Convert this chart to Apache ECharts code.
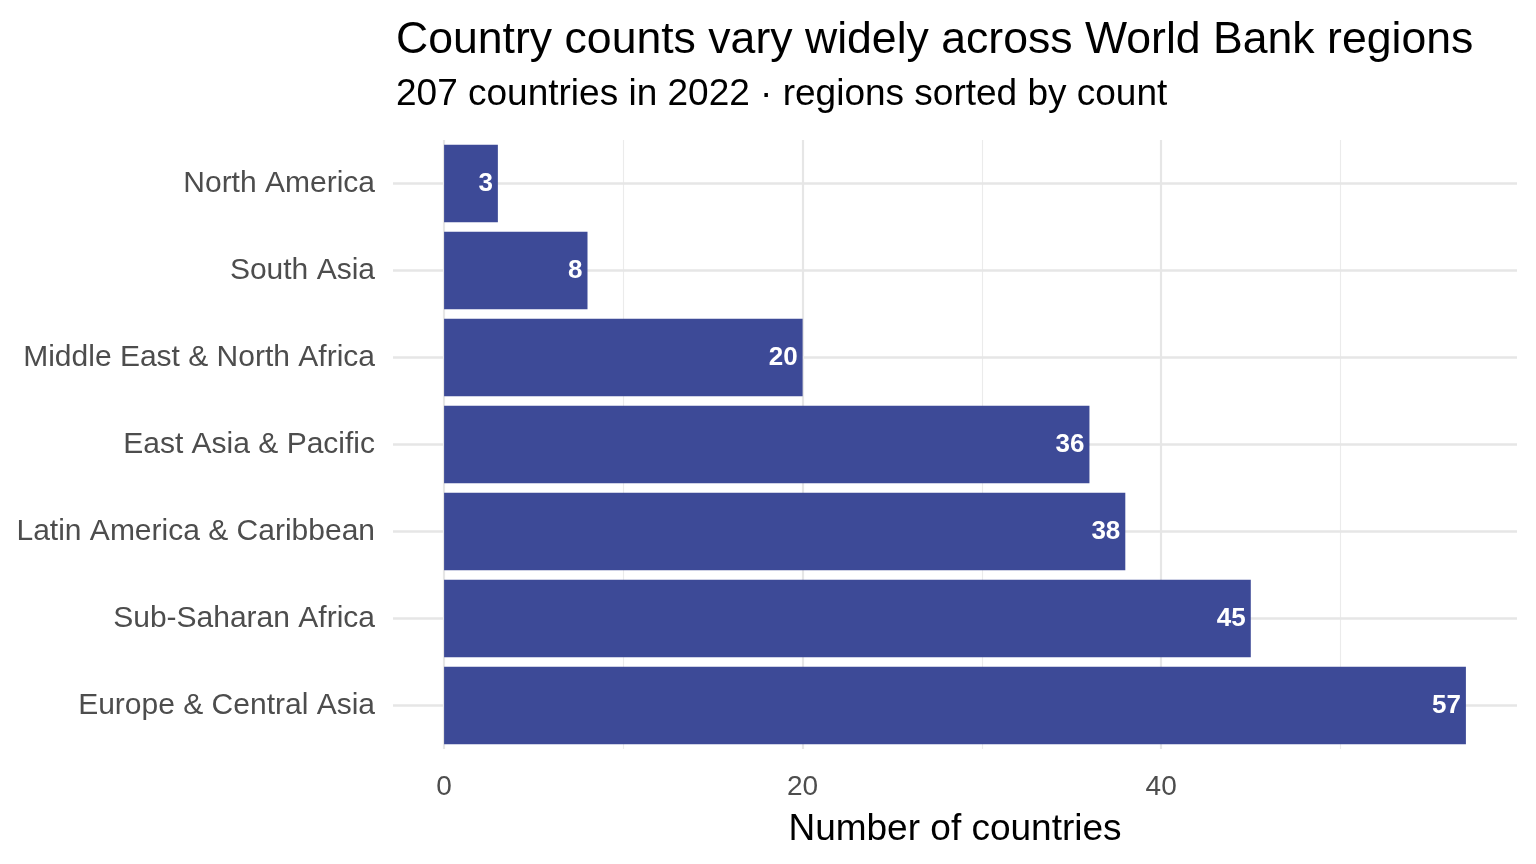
<!DOCTYPE html>
<html>
<head>
<meta charset="utf-8">
<script src="https://cdn.jsdelivr.net/npm/echarts@6/dist/echarts.min.js"></script>
<style>html,body{margin:0;padding:0;background:#fff}#chart{width:1536px;height:864px}</style>
</head>
<body>
<div id="chart"></div>
<script>
// regions sorted by count (top to bottom)
var regions = ['North America', 'South Asia', 'Middle East & North Africa', 'East Asia & Pacific',
    'Latin America & Caribbean', 'Sub-Saharan Africa', 'Europe & Central Asia'];
var counts = [3, 8, 20, 36, 38, 45, 57];
var majorTicks = [0, 20, 40];
var minorTicks = [10, 30, 50];

var chart = echarts.init(document.getElementById('chart'));

var gridLines = [];
majorTicks.forEach(function (v) {
    gridLines.push({ xAxis: v, lineStyle: { color: '#e6e6e6', width: 2.2, type: 'solid' } });
});
minorTicks.forEach(function (v) {
    gridLines.push({ xAxis: v, lineStyle: { color: '#ebebeb', width: 1.1, type: 'solid' } });
});
regions.forEach(function (r) {
    gridLines.push({ yAxis: r, lineStyle: { color: '#e6e6e6', width: 2.5, type: 'solid' } });
});

var option = {
    animation: false,
    textStyle: { fontFamily: 'Liberation Sans, Arial, sans-serif' },
    title: [
        { text: 'Country counts vary widely across World Bank regions', left: 391, top: 13,
          textStyle: { fontSize: 44.6, fontWeight: 'normal', color: '#000' } },
        { text: '207 countries in 2022 · regions sorted by count', left: 391, top: 71,
          textStyle: { fontSize: 37, fontWeight: 'normal', color: '#000' } }
    ],
    grid: { left: 393, right: 19, top: 140, bottom: 115 },
    xAxis: {
        type: 'value', min: -2.85, max: 59.85,
        name: 'Number of countries', nameLocation: 'middle', nameGap: 62,
        nameTextStyle: { fontSize: 37, color: '#000' },
        axisLine: { show: false }, axisTick: { show: false }, splitLine: { show: false },
        axisLabel: {
            fontSize: 28, color: '#4d4d4d', margin: 24,
            customValues: majorTicks
        }
    },
    yAxis: {
        type: 'category', data: regions, inverse: true,
        axisLine: { show: false }, axisTick: { show: false }, splitLine: { show: false },
        axisLabel: { fontSize: 30, color: '#4d4d4d', margin: 18 }
    },
    series: [
        {
            type: 'bar', data: counts, barWidth: '89%', z: 3,
            itemStyle: { color: '#3d4a97' },
            label: { show: true, position: 'insideRight', distance: 5, color: '#fff',
                     fontWeight: 'bold', fontSize: 26 },
            markLine: { silent: true, symbol: 'none', label: { show: false }, data: gridLines, z: 1 }
        }
    ]
};
chart.setOption(option);
</script>
</body>
</html>
